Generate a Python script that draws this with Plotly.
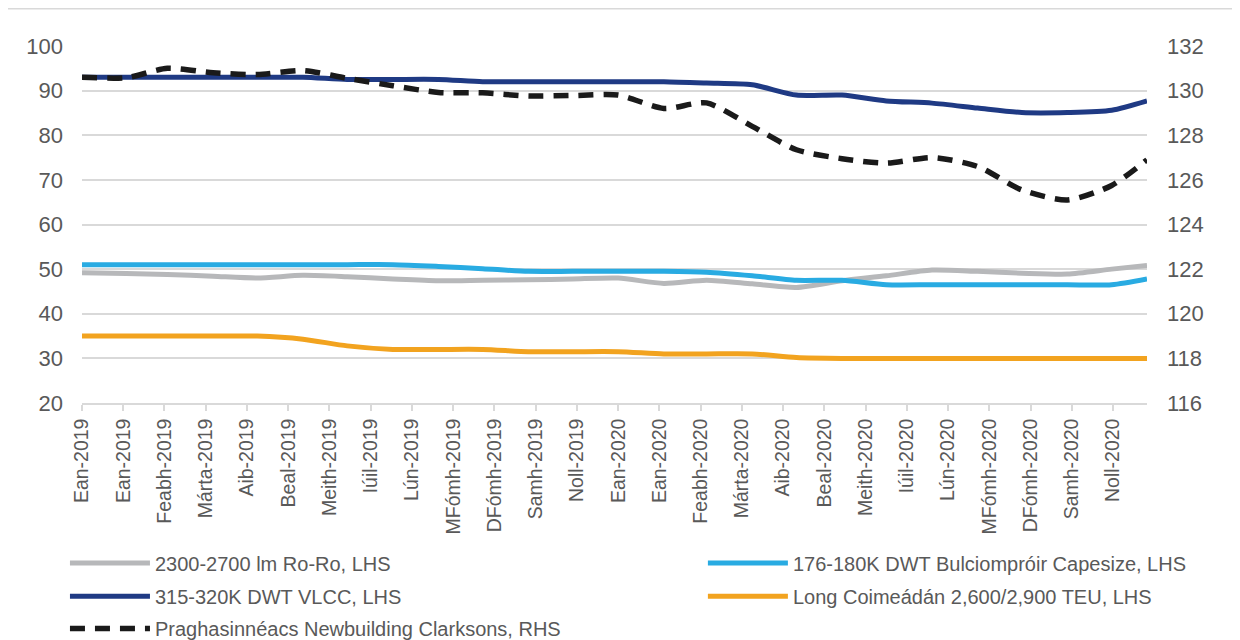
import plotly.graph_objects as go
import pandas as pd

# monthly readings, first point early Jan 2019, last one late Dec 2020
dates = (["2019-01-02"]
         + [d.strftime("%Y-%m-%d") for d in pd.date_range("2019-02-01", "2020-12-01", freq="MS")]
         + ["2020-12-25"])

ro_ro = [49.2, 49.0, 48.8, 48.4, 48.0, 48.6, 48.3, 47.8, 47.4, 47.5, 47.6, 47.8,
         48.0, 46.8, 47.5, 46.7, 45.9, 47.4, 48.5, 49.8, 49.5, 49.1, 48.9, 50.0, 50.8]
capesize = [51.0, 51.0, 51.0, 51.0, 51.0, 51.0, 51.0, 51.0, 50.6, 50.1, 49.5, 49.5,
            49.5, 49.5, 49.3, 48.5, 47.5, 47.5, 46.5, 46.5, 46.5, 46.5, 46.5, 46.5, 47.8]
vlcc = [93.0, 93.0, 93.0, 93.0, 93.0, 93.0, 92.5, 92.5, 92.5, 92.0, 92.0, 92.0,
        92.0, 92.0, 91.7, 91.3, 89.0, 89.0, 87.7, 87.2, 86.1, 85.1, 85.1, 85.6, 87.7]
container = [35.0, 35.0, 35.0, 35.0, 35.0, 34.3, 32.8, 32.0, 32.0, 32.0, 31.5, 31.5,
             31.5, 31.0, 31.0, 31.0, 30.2, 30.0, 30.0, 30.0, 30.0, 30.0, 30.0, 30.0, 30.0]
clarksons = [130.6, 130.58, 131.0, 130.8, 130.72, 130.9, 130.55, 130.22, 129.92, 129.9,
             129.76, 129.78, 129.8, 129.2, 129.45, 128.4, 127.35, 126.95, 126.75, 127.0,
             126.6, 125.55, 125.1, 125.75, 126.9]

tick_labels = ["Ean-2019", "Ean-2019", "Feabh-2019", "Márta-2019", "Aib-2019", "Beal-2019",
               "Meith-2019", "Iúil-2019", "Lún-2019", "MFómh-2019", "DFómh-2019", "Samh-2019",
               "Noll-2019", "Ean-2020", "Ean-2020", "Feabh-2020", "Márta-2020", "Aib-2020",
               "Beal-2020", "Meith-2020", "Iúil-2020", "Lún-2020", "MFómh-2020", "DFómh-2020",
               "Samh-2020", "Noll-2020"]
tick_dates = pd.date_range("2019-01-02", periods=len(tick_labels), freq="28D")

FONT = "Arial, Liberation Sans, sans-serif"
TXT = "#595959"
GRID = "#D9D9D9"

# name, values, colour, dash, width, axis, legend slot (x, y in paper units)
series = [
    ("2300-2700 lm Ro-Ro, LHS", ro_ro, "#B7B8BA", "solid", 5, "y", (-0.016, -0.448)),
    ("176-180K DWT Bulciompróir Capesize, LHS", capesize, "#29ABE2", "solid", 5, "y", (0.583, -0.448)),
    ("315-320K DWT VLCC, LHS", vlcc, "#1F3A84", "solid", 5, "y", (-0.016, -0.541)),
    ("Long Coimeádán 2,600/2,900 TEU, LHS", container, "#F2A31F", "solid", 5, "y", (0.583, -0.541)),
    ("Praghasinnéacs Newbuilding Clarksons, RHS", clarksons, "#1A1A1A", "15px,10px", 5.5, "y2", (-0.016, -0.632)),
]

fig = go.Figure()
legends = {}
for i, (name, vals, color, dash, lw, yax, pos) in enumerate(series):
    key = "legend" if i == 0 else f"legend{i + 1}"
    fig.add_trace(go.Scatter(
        x=dates, y=vals, name=name, mode="lines", yaxis=yax, legend=key, showlegend=True,
        line=dict(color=color, width=lw, dash=dash, shape="spline", smoothing=0.7),
    ))
    legends[key] = dict(x=pos[0], y=pos[1], xanchor="left", yanchor="middle",
                        orientation="h", bgcolor="rgba(0,0,0,0)", itemwidth=80,
                        font=dict(family=FONT, size=20, color=TXT))

# the page body keeps an 8px margin, so the figure is 8px smaller than the window
fig.update_layout(
    width=1232, height=632, showlegend=True,
    margin=dict(l=74, r=93, t=38, b=237, autoexpand=False),
    paper_bgcolor="white", plot_bgcolor="white",
    font=dict(family=FONT, color=TXT, size=18),
    xaxis=dict(
        type="date", range=[dates[0], dates[-1]],
        tickvals=tick_dates, ticktext=tick_labels, tickangle=-90,
        tickfont=dict(size=19.5, color=TXT),
        showgrid=False, showline=True, linecolor=GRID, linewidth=1.5,
        ticks="outside", ticklen=6, tickcolor=GRID, tickwidth=1.5,
    ),
    yaxis=dict(
        range=[20, 100], dtick=10, showgrid=True, gridcolor=GRID, gridwidth=1.5,
        zeroline=False, tickfont=dict(size=22, color=TXT), ticklabelstandoff=18,
    ),
    yaxis2=dict(
        range=[116, 132], dtick=2, overlaying="y", side="right", showgrid=False,
        zeroline=False, tickfont=dict(size=22, color=TXT), ticklabelstandoff=19,
    ),
    shapes=[dict(type="line", xref="paper", yref="paper", x0=-0.08, x1=1.09,
                 y0=1.104, y1=1.104, line=dict(color=GRID, width=1.5))],
    **legends,
)

fig.write_html("out.html")
